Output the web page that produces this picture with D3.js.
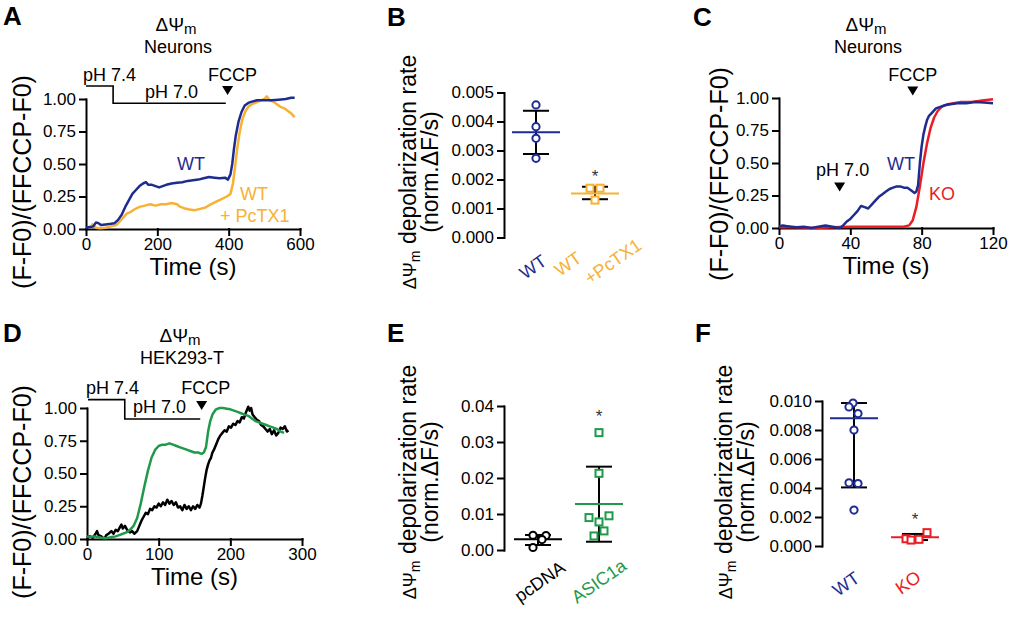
<!DOCTYPE html>
<html><head><meta charset="utf-8">
<script src="https://cdn.jsdelivr.net/npm/d3@7"></script>
<style>body{margin:0;background:#fff}svg{display:block}</style>
</head><body><svg id="c" width="1011" height="617"></svg>
<script>
// ---------------- DATA ----------------
const yTicksTrace = [0, 0.25, 0.5, 0.75, 1.0];
const aXTicks = [0, 200, 400, 600];
const cXTicks = [0, 40, 80, 120];
const dXTicks = [0, 100, 200, 300];

// Panel A (time s, normalized signal)
const aWT = [[0,0.01],[10,0.015],[20,0.02],[28,0.05],[35,0.045],[42,0.03],[55,0.035],[70,0.04],[80,0.045],[90,0.07],[100,0.11],[110,0.17],[120,0.22],[130,0.27],[140,0.3],[150,0.33],[160,0.35],[168,0.36],[175,0.34],[185,0.34],[195,0.33],[205,0.32],[215,0.33],[225,0.34],[240,0.35],[255,0.355],[270,0.36],[285,0.37],[300,0.375],[315,0.38],[330,0.39],[345,0.4],[360,0.395],[375,0.39],[390,0.395],[398,0.38],[405,0.42],[410,0.5],[415,0.62],[420,0.72],[428,0.83],[436,0.9],[445,0.95],[455,0.97],[465,0.98],[480,0.99],[500,0.99],[520,0.99],[540,0.995],[560,1.0],[575,1.01],[585,1.01]];
const aPcTX1 = [[15,0.04],[20,0.03],[28,0.01],[40,0.005],[55,0.01],[70,0.02],[85,0.03],[95,0.06],[105,0.09],[115,0.12],[125,0.13],[135,0.15],[150,0.17],[165,0.18],[180,0.19],[195,0.18],[210,0.19],[225,0.19],[240,0.2],[255,0.19],[265,0.17],[275,0.16],[290,0.15],[305,0.145],[320,0.155],[335,0.165],[350,0.19],[365,0.21],[380,0.23],[395,0.25],[405,0.27],[412,0.35],[418,0.48],[424,0.62],[430,0.73],[438,0.84],[446,0.9],[455,0.94],[465,0.96],[475,0.97],[490,0.99],[500,1.0],[507,1.02],[515,0.99],[525,0.98],[535,0.96],[545,0.94],[555,0.93],[565,0.91],[575,0.89],[585,0.86]];
const aPhSteps = [[0,1.10],[76,1.10],[76,0.967],[392,0.967]];
const aFCCP = 397;

// Panel C
const cWT = [[0,0.01],[2,0.02],[4,0.015],[7,0.01],[10,0.005],[14,0.01],[18,0.0],[22,0.01],[26,0.02],[30,0.01],[34,0.0],[36,0.02],[38,0.05],[40,0.07],[42,0.1],[44,0.13],[46,0.17],[48,0.16],[50,0.15],[52,0.18],[54,0.21],[56,0.24],[58,0.26],[60,0.28],[62,0.3],[64,0.31],[66,0.32],[68,0.32],[70,0.31],[72,0.31],[74,0.29],[76,0.27],[77,0.28],[78,0.33],[79,0.5],[80,0.63],[81,0.72],[82,0.78],[83,0.83],[84,0.86],[86,0.89],[88,0.92],[90,0.93],[92,0.94],[95,0.95],[100,0.96],[105,0.96],[110,0.97],[115,0.965],[120,0.96]];
const cKO = [[0,0.005],[10,0.005],[20,0.0],[30,0.005],[40,0.01],[50,0.01],[60,0.01],[70,0.01],[73,0.02],[75,0.06],[77,0.16],[79,0.32],[81,0.5],[83,0.65],[85,0.77],[87,0.85],[89,0.9],[91,0.93],[94,0.95],[98,0.96],[102,0.97],[108,0.97],[114,0.98],[120,0.99]];
const cPH = 34, cFCCP = 75;

// Panel D
const dASIC = [[0,0.02],[5,0.015],[10,0.02],[15,0.015],[20,0.01],[25,0.005],[30,0.01],[35,0.015],[40,0.02],[45,0.03],[50,0.04],[55,0.05],[60,0.07],[65,0.1],[70,0.16],[75,0.27],[80,0.4],[85,0.52],[90,0.62],[95,0.68],[100,0.71],[105,0.72],[110,0.72],[115,0.73],[120,0.72],[125,0.71],[130,0.7],[135,0.69],[140,0.68],[145,0.67],[150,0.66],[155,0.66],[160,0.65],[163,0.66],[166,0.7],[169,0.82],[172,0.9],[175,0.95],[180,0.99],[185,1.0],[190,1.0],[195,0.995],[200,0.99],[205,0.98],[210,0.97],[215,0.96],[220,0.95],[225,0.94],[230,0.92],[235,0.9],[240,0.89],[245,0.88],[250,0.87],[255,0.86],[260,0.85],[265,0.84],[270,0.82],[275,0.81]];
const dPcDNA = [[0,0.01],[4,0.02],[8,0.01],[12,0.04],[14,0.06],[16,0.03],[20,0.02],[24,0.0],[27,0.03],[30,0.04],[34,0.06],[37,0.04],[40,0.07],[43,0.06],[46,0.09],[48,0.11],[50,0.08],[53,0.1],[56,0.07],[60,0.05],[63,0.06],[66,0.04],[70,0.06],[73,0.1],[76,0.14],[79,0.17],[82,0.2],[85,0.19],[88,0.23],[91,0.22],[94,0.25],[97,0.24],[100,0.27],[103,0.25],[106,0.28],[109,0.26],[112,0.3],[115,0.27],[118,0.29],[121,0.26],[124,0.28],[127,0.24],[130,0.25],[133,0.22],[136,0.26],[139,0.23],[142,0.25],[145,0.22],[148,0.25],[151,0.23],[154,0.26],[157,0.24],[159,0.27],[161,0.33],[163,0.4],[165,0.47],[167,0.53],[169,0.57],[171,0.6],[173,0.62],[175,0.66],[177,0.68],[180,0.72],[183,0.76],[186,0.79],[189,0.81],[192,0.83],[195,0.82],[198,0.86],[201,0.85],[204,0.88],[207,0.87],[210,0.9],[213,0.89],[216,0.93],[219,0.92],[222,0.97],[225,1.01],[227,0.98],[229,1.0],[231,0.95],[234,0.93],[237,0.91],[240,0.9],[243,0.87],[246,0.86],[249,0.84],[252,0.82],[255,0.84],[258,0.8],[261,0.83],[264,0.79],[267,0.81],[270,0.85],[273,0.84],[276,0.86],[279,0.82],[281,0.83]];
const dPhSteps = [[1.4,1.064],[52.7,1.064],[52.7,0.916],[158,0.916]];
const dFCCP = 160;

// Panel B
const bCats = ["WT", "WT+PcTX1"];
const bValues = [[0.00457,0.00382,0.00342,0.00273],[0.0017,0.0017,0.00129]];
const bCenter = [0.00363, 0.00152];
const bErrHi = [0.00437, 0.00175];
const bErrLo = [0.00288, 0.00132];
const bYTicks = [0,0.001,0.002,0.003,0.004,0.005];
const bStar = 0.00226;

// Panel E
const eCats = ["pcDNA", "ASIC1a"];
const eValues = [[0.0041,0.004,0.0029,0.0007],[0.0326,0.0213,0.0095,0.009,0.0078,0.0053,0.0039]];
const eCenter = [0.00297, 0.01278];
const eErrHi = [0.00417, 0.02315];
const eErrLo = [0.00139, 0.0023];
const eYTicks = [0,0.01,0.02,0.03,0.04];
const eStar = 0.0383;

// Panel F
const fCats = ["WT", "KO"];
const fValues = [[0.00986,0.00959,0.00913,0.008,0.00436,0.00431,0.00248],[0.0005,0.00041,0.00046,0.00092]];
const fCenter = [0.00881, 0.0006];
const fErrHi = [0.00986, 0.00083];
const fErrLo = [0.00404, 0.00041];
const fYTicks = [0,0.002,0.004,0.006,0.008,0.010];
const fStar = 0.00213;

// ---------------- STYLE / LAYOUT ----------------
const FONT = '"Liberation Sans", Arial, Helvetica, sans-serif';
const BLUE = "#1f2c8f", ORANGE = "#f8b133", RED = "#ec1c24", GREEN = "#1f9a4a", BLACK = "#000";
const svg = d3.select("#c").attr("font-family", FONT);
svg.append("rect").attr("width",1011).attr("height",617).attr("fill","#fff");

function txt(x, y, s, o = {}) {
  const t = svg.append("text").attr("x", x).attr("y", y).text(s)
    .attr("font-size", o.size || 18).attr("fill", o.color || BLACK)
    .attr("text-anchor", o.anchor || "start").attr("font-weight", o.weight || "normal");
  if (o.rotate !== undefined) t.attr("transform", `rotate(${o.rotate},${x},${y})`);
  return t;
}
function styleAxis(a) {
  a.attr("font-family", FONT).attr("font-size", 17);
  a.selectAll("path,line").attr("stroke", BLACK).attr("stroke-width", 2).attr("stroke-linecap","square");
  a.selectAll("text").attr("fill", BLACK);
}
function titleDPsi(x, y, sub) {
  const t = svg.append("text").attr("x", x).attr("y", y).attr("text-anchor","middle").attr("fill",BLACK);
  t.append("tspan").attr("font-size",19).text("ΔΨ");
  t.append("tspan").attr("font-size",15).attr("dy",3).text("m");
  txt(x + 2, y + 22, sub, {anchor:"middle", size:18});
}
function traceYTitle(x, y) {
  txt(x, y, "(F-F0)/(FFCCP-F0)", {anchor:"middle", size:25, rotate:-90});
}
function rateYTitle(x, y) {
  const t = svg.append("text").attr("x", x).attr("y", y).attr("text-anchor","middle")
    .attr("transform", `rotate(-90,${x},${y})`).attr("fill",BLACK);
  t.append("tspan").attr("font-size",18).text("ΔΨ");
  t.append("tspan").attr("font-size",14).attr("dy",4).text("m");
  t.append("tspan").attr("font-size",23).attr("dy",-4).text(" depolarization rate");
  txt(x + 22, y, "(norm.ΔF/s)", {anchor:"middle", size:23, rotate:-90});
}
function triangle(cx, tipY) {
  svg.append("path").attr("d", `M${cx-5.5},${tipY-9}L${cx+5.5},${tipY-9}L${cx},${tipY}Z`).attr("fill", BLACK);
}

function tracePanel(o) {
  const x = d3.scaleLinear().domain(o.xDomain).range([o.left, o.right]);
  const y = d3.scaleLinear().domain([0, 1]).range([o.bottom, o.top]);
  const ya = svg.append("g").attr("transform", `translate(${o.left},0)`)
    .call(d3.axisLeft(y).tickValues(yTicksTrace).tickFormat(d3.format(".2f")).tickSize(6).tickSizeOuter(0).tickPadding(4));
  const xa = svg.append("g").attr("transform", `translate(0,${o.bottom})`)
    .call(d3.axisBottom(x).tickValues(o.xTicks).tickFormat(d3.format("d")).tickSize(6).tickSizeOuter(0).tickPadding(3));
  styleAxis(ya); styleAxis(xa);
  const line = d3.line().x(d => x(d[0])).y(d => y(d[1]));
  o.series.forEach(s => svg.append("path").datum(s.data).attr("d", line).attr("fill","none")
    .attr("stroke", s.color).attr("stroke-width", 2.5).attr("stroke-linejoin","round"));
  txt((o.left + o.right) / 2, o.bottom + 46, "Time (s)", {anchor:"middle", size:24});
  return {x, y, line};
}

function scatterPanel(o) {
  const y = d3.scaleLinear().domain(o.yDomain).range([o.bottom, o.top]);
  const x = d3.scalePoint().domain(o.cats).range(o.xRange);
  const ya = svg.append("g").attr("transform", `translate(${o.axisX},0)`)
    .call(d3.axisLeft(y).tickValues(o.yTicks).tickFormat(d3.format(o.fmt)).tickSize(6).tickSizeOuter(0).tickPadding(4));
  styleAxis(ya);
  o.cats.forEach((c, i) => {
    const cx = x(c);
    svg.append("line").attr("x1",cx).attr("x2",cx).attr("y1",y(o.hi[i])).attr("y2",y(o.lo[i])).attr("stroke",BLACK).attr("stroke-width",2);
    [o.hi[i], o.lo[i]].forEach(v => svg.append("line").attr("x1",cx-13).attr("x2",cx+13).attr("y1",y(v)).attr("y2",y(v)).attr("stroke",BLACK).attr("stroke-width",2));
    svg.append("line").attr("x1",cx-24).attr("x2",cx+24).attr("y1",y(o.center[i])).attr("y2",y(o.center[i])).attr("stroke",o.colors[i]).attr("stroke-width",2);
    o.values[i].forEach((v, j) => {
      const px = cx + o.jitter[i][j], py = y(v);
      if (o.shapes[i] === "circle") {
        svg.append("circle").attr("cx",px).attr("cy",py).attr("r",3.6).attr("fill","#fff").attr("stroke",o.colors[i]).attr("stroke-width",2);
      } else {
        svg.append("rect").attr("x",px-3.5).attr("y",py-3.5).attr("width",7).attr("height",7).attr("fill","#fff").attr("stroke",o.colors[i]).attr("stroke-width",2);
      }
    });
  });
  txt(x(o.cats[1]), y(o.star) + 10, "*", {anchor:"middle", size:17, color:"#333"});
  return {x, y};
}

// ---------------- PANEL A ----------------
txt(3, 25, "A", {size:26, weight:"bold"});
titleDPsi(176, 31, "Neurons");
traceYTitle(31, 182);
const A = tracePanel({xDomain:[0,600], left:86, right:300, top:99, bottom:229, xTicks:aXTicks,
  series:[{data:aPcTX1, color:ORANGE},{data:aWT, color:BLUE}]});
svg.append("path").datum(aPhSteps).attr("d", A.line).attr("fill","none").attr("stroke",BLACK).attr("stroke-width",1.6);
txt(A.x(0)-3, A.y(aPhSteps[0][1])-5, "pH 7.4");
txt(A.x(240), A.y(aPhSteps[2][1])-5, "pH 7.0", {anchor:"middle"});
triangle(A.x(aFCCP), A.y(1.03));
txt(A.x(aFCCP)+5, A.y(aPhSteps[0][1])-5, "FCCP", {anchor:"middle"});
txt(177, 170, "WT", {color:BLUE});
txt(240, 200, "WT", {color:ORANGE});
txt(220, 222, "+ PcTX1", {color:ORANGE});

// ---------------- PANEL B ----------------
txt(387, 26, "B", {size:26, weight:"bold"});
rateYTitle(416, 172);
scatterPanel({yDomain:[0,0.005], top:92.5, bottom:237.5, axisX:504, xRange:[536,595], cats:bCats,
  yTicks:bYTicks, fmt:".3f", values:bValues, center:bCenter, hi:bErrHi, lo:bErrLo,
  colors:[BLUE, ORANGE], shapes:["circle","square"], jitter:[[0,0,0,0],[-5,5,0]], star:bStar});
txt(525, 280, "WT", {color:BLUE, rotate:-35});
txt(560, 277, "WT", {color:ORANGE, rotate:-35});
txt(590, 285, "+PcTX1", {color:ORANGE, rotate:-35});

// ---------------- PANEL C ----------------
txt(693, 26, "C", {size:26, weight:"bold"});
titleDPsi(866, 31, "Neurons");
traceYTitle(728, 174);
const C = tracePanel({xDomain:[0,120], left:779, right:993, top:98, bottom:228, xTicks:cXTicks,
  series:[{data:cKO, color:RED},{data:cWT, color:BLUE}]});
triangle(C.x(cFCCP), C.y(1.02));
txt(C.x(cFCCP), C.y(1.02)-14, "FCCP", {anchor:"middle"});
triangle(C.x(cPH), C.y(0.28));
txt(C.x(cPH)+3, C.y(0.28)-16, "pH 7.0", {anchor:"middle"});
txt(887, 170, "WT", {color:BLUE});
txt(929, 200, "KO", {color:RED});

// ---------------- PANEL D ----------------
txt(3, 342, "D", {size:26, weight:"bold"});
titleDPsi(180, 342, "HEK293-T");
traceYTitle(31, 492);
const D = tracePanel({xDomain:[0,300], left:87, right:302, top:408, bottom:539, xTicks:dXTicks,
  series:[{data:dPcDNA, color:BLACK},{data:dASIC, color:GREEN}]});
svg.append("path").datum(dPhSteps).attr("d", D.line).attr("fill","none").attr("stroke",BLACK).attr("stroke-width",1.6);
txt(86, D.y(dPhSteps[0][1])-6, "pH 7.4");
txt(133, D.y(dPhSteps[2][1])-6, "pH 7.0");
triangle(D.x(dFCCP), D.y(0.985));
txt(D.x(dFCCP)+4, D.y(dPhSteps[0][1])-6, "FCCP", {anchor:"middle"});

// ---------------- PANEL E ----------------
txt(387, 342, "E", {size:26, weight:"bold"});
rateYTitle(416, 482);
scatterPanel({yDomain:[0,0.04], top:406, bottom:550, axisX:504, xRange:[538,599], cats:eCats,
  yTicks:eYTicks, fmt:".2f", values:eValues, center:eCenter, hi:eErrHi, lo:eErrLo,
  colors:[BLACK, GREEN], shapes:["circle","square"], jitter:[[-5,8,4,-5],[0,0,10,-10,0,5,-5]], star:eStar});
txt(520, 603, "pcDNA", {color:BLACK, rotate:-35});
txt(577, 604, "ASIC1a", {color:GREEN, rotate:-35});

// ---------------- PANEL F ----------------
txt(695, 342, "F", {size:26, weight:"bold"});
rateYTitle(732, 482);
scatterPanel({yDomain:[0,0.010], top:401, bottom:546, axisX:822, xRange:[854,915], cats:fCats,
  yTicks:fYTicks, fmt:".3f", values:fValues, center:fCenter, hi:fErrHi, lo:fErrLo,
  colors:[BLUE, RED], shapes:["circle","square"], jitter:[[-1,-5,4,0,-5,4,0],[-9,-4,4,12]], star:fStar});
txt(838, 597, "WT", {color:BLUE, rotate:-35});
txt(901, 595, "KO", {color:RED, rotate:-35});
</script></body></html>
